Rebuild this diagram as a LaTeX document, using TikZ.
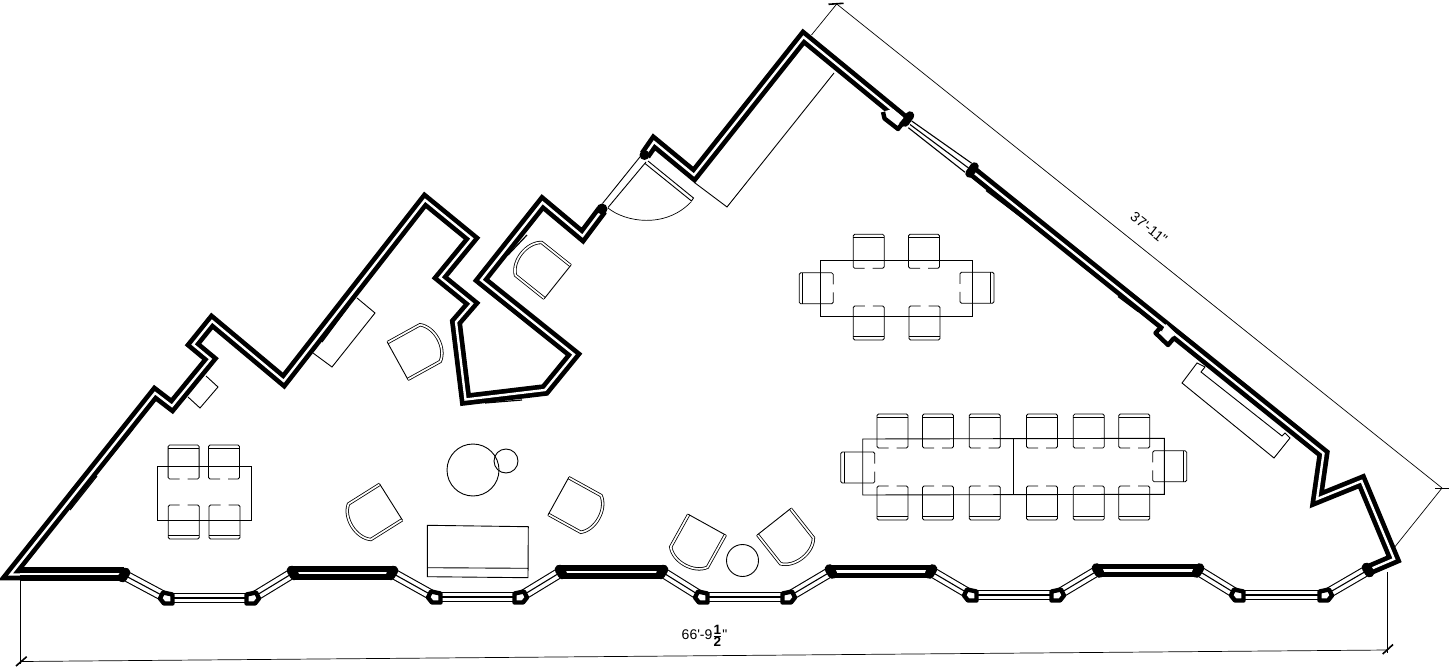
\documentclass[tikz,border=0pt]{standalone}
\usepackage{fontspec}
\newfontfamily\lab{Liberation Sans}
\tikzset{
  wall/.style={draw=black,line width=4.7pt,double=white,double distance=2.4pt,miter limit=20,line join=miter},
  wallb/.style={draw=black,line width=5.6pt,double=white,double distance=2.4pt},
  thin line/.style={draw=black,line width=.9pt},
  dim line/.style={draw=black,line width=.7pt},
  tick mark/.style={draw=black,line width=1.6pt},
  extra edge/.style={draw=black,line width=1.2pt},
  pier/.style={draw=black,line width=9.5pt,line cap=round},
  jambbox/.style={draw=black,fill=white,line width=4.4pt,line join=round},
  armline/.style={draw=black,line width=.8pt,double=white,double distance=1.7pt},
  seatline/.style={draw=black,line width=.8pt,rounded corners=1.5pt},
  winline/.style={draw=black,line width=1.1pt,double=white,double distance=8.5pt},
}
\newcommand{\seatc}[3]{\begin{scope}[shift={(#1,#2)},rotate=#3]
  \draw[seatline] (-4,17)--(-15.5,17)--(-15.5,-17)--(15.5,-17)--(15.5,17)--(4,17);
  \draw[thin line,line width=.8pt] (-15.5,-13.5)--(15.5,-13.5);
\end{scope}}
\newcommand{\armchair}[3]{\begin{scope}[shift={(#1,#2)},rotate=#3]
  \draw[armline] (-21,0)--(-21,37) .. controls (-12,49) and (12,49) .. (21,37)--(21,0);
  \draw[thin line] (-21.5,0)--(21.5,0);
\end{scope}}
\newcommand{\win}[2]{\draw[winline] (#1)--(#2); \draw[draw=black,line width=1.1pt] (#1)--(#2);}
\newcommand{\boxL}[2]{\filldraw[jambbox] (#1-4,#2-5.5)--(#1+5.5,#2-3.5)--(#1+5.5,#2+5.5)--(#1-3,#2+5.5)--(#1-7,#2+.5)--cycle;}
\newcommand{\boxR}[2]{\filldraw[jambbox] (#1+4,#2-5.5)--(#1-5.5,#2-3.5)--(#1-5.5,#2+5.5)--(#1+3,#2+5.5)--(#1+7,#2+.5)--cycle;}
\newcommand{\pierA}[1]{\draw[pier] ([shift={(1.6,-2.6)}]#1)--([shift={(-1.6,2.6)}]#1);}
\newcommand{\pierB}[1]{\draw[pier] ([shift={(-1.6,-2.6)}]#1)--([shift={(1.6,2.6)}]#1);}
\begin{document}
\begin{tikzpicture}[x=1pt,y=-1pt]
\useasboundingbox (0,0) rectangle (1450,668);
\fill[white] (0,0) rectangle (1450,668);
% ---- named points along the bay-window facade
\coordinate (p1) at (124,575);
\coordinate (b1) at (167,598);
\coordinate (b2) at (252,598);
\coordinate (p2) at (293,573);
\coordinate (p3) at (392,573);
\coordinate (b3) at (435,597);
\coordinate (b4) at (520,597);
\coordinate (p4) at (561,572);
\coordinate (p5) at (662,572);
\coordinate (b5) at (702,597);
\coordinate (b6) at (788,597);
\coordinate (p6) at (831,571.5);
\coordinate (p7) at (931,571.5);
\coordinate (b7) at (971,595);
\coordinate (b8) at (1057,595);
\coordinate (p8) at (1098,570.5);
\coordinate (p9) at (1198,570.5);
\coordinate (b9) at (1238,595);
\coordinate (b10) at (1325,595);
\coordinate (p10) at (1368,570);
% ---- windows
\win{p1}{b1}\win{b1}{b2}\win{b2}{p2}
\win{p3}{b3}\win{b3}{b4}\win{b4}{p4}
\win{p5}{b5}\win{b5}{b6}\win{b6}{p6}
\win{p7}{b7}\win{b7}{b8}\win{b8}{p8}
\win{p9}{b9}\win{b9}{b10}\win{b10}{p10}
\draw[thin line,line width=1.1pt] (911.7,121)--(971.7,163.3);
\draw[thin line,line width=1.1pt] (910,124.5)--(968.5,168);
\draw[thin line,line width=1.1pt] (908.3,127.7)--(965,172.3);
% ---- door opening frame
\draw[thin line] (602.5,203.5)--(641.5,155);
\draw[thin line] (608,207.5)--(646,162);
% ---- walls
\draw[wall] (124,574)--(10.5,574.5)--(155,393)--(172,406)--(210.5,359)--(193,344.5)--(212,321)--(283.7,381)--(425,200)--(472,238.5)--(440,277.5)--(472,303.5)--(456,322)--(465.5,399.5)--(545,390)--(574,354.5)--(481,280)--(542.5,202.5)--(582.5,236)--(602,210);
\draw[wallb] (20,574)--(124,574);
\draw[wall] (645,155)--(654,142)--(694,175)--(803.5,37)--(907,122);
\draw[wall] (972,171)--(1323.5,453.5)--(1317,499)--(1361.5,481)--(1394,559)--(1366,571);
\draw[wallb] (p2)--(p3);
\draw[wallb] (p4)--(p5);
\draw[wallb] (p6)--(p7);
\draw[wallb] (p8)--(p9);
% ---- piers and jambs
\foreach \q in {p1,p3,p5,p7,p9}{\pierA{\q}}
\foreach \q in {p2,p4,p6,p8,p10}{\pierB{\q}}
\fill[black] (602,209) circle[radius=5.5pt];
\fill[black] (644.5,155) circle[radius=5pt];
\draw[pier,line width=8.5pt] (910,115.5)--(905,122.5);
\draw[pier,line width=8.5pt] (974.5,166.5)--(969.5,173.5);
\boxL{167}{598}\boxR{252}{598}
\boxL{435}{597}\boxR{520}{597}
\boxL{702}{597}\boxR{788}{597}
\boxL{971}{595}\boxR{1057}{595}
\boxL{1238}{595}\boxR{1325}{595}
% ---- wall notches
\fill[white] (885,111)--(887,116.5)--(897.5,125)--(903.5,118)--(893,109)--cycle;
\draw[jambbox,fill=none] (883,112)--(884.5,118.5)--(898,129)--(906,119);
\fill[white] (1162,331)--(1168,341)--(1176,334)--(1166,324)--cycle;
\draw[jambbox,fill=none] (1162,326)--(1155.5,333)--(1168,345)--(1174,338);
% ---- thickened spots on the inner wall faces
\draw[extra edge] (70,510)--(97,476);
\draw[extra edge] (104,464)--(133,429);
\draw[extra edge] (322,342)--(348,307);
\draw[extra edge] (986,190.5)--(1023,218.5);
\draw[extra edge] (508,255)--(527,235);
\draw[extra edge] (485,403)--(522,400);
\draw[extra edge] (1118,296.5)--(1138,311.5);
% ---- door
\draw[thin line] (648,161)--(693.5,198)--(691.5,201)--(645,163.5);
\draw[dim line] (608,208) .. controls (625,222) and (665,229) .. (691,202);
% ---- wall cabinets and fixtures
\draw[thin line] (206,376)--(218,387)--(200,408)--(188,397);
\draw[thin line] (357,298)--(375,313)--(332,367)--(313,353);
\draw[thin line] (695,183)--(727,207)--(834,73);
\draw[thin line] (1197,363)--(1182,383)--(1274,458)--(1290,438)--(1285,433)--(1282,436)--(1201,372)--(1205,367)--cycle;
% ---- armchairs
\armchair{557.5}{282}{-128.6}
\armchair{397.7}{361}{118.9}
\armchair{391}{502}{-57.8}
\armchair{558.5}{496}{61.1}
\armchair{707}{524.7}{-29}
\armchair{774}{521.7}{38.3}
% ---- round tables
\draw[thin line] (473,470) circle[radius=26pt];
\draw[thin line] (506,461) circle[radius=12pt];
\draw[thin line] (742.5,560.5) circle[radius=16pt];
% ---- low table
\draw[thin line] (427.3,525.3)--(528.3,526.7)--(528,577.7)--(427.3,576.7)--cycle;
\draw[thin line] (427.3,567.7)--(528,568.3);
% ---- small table
\draw[thin line] (157.3,466.7) rectangle (251.7,520.3);
\seatc{183.6}{462}{0}\seatc{224}{462}{0}
\seatc{183.7}{522}{180}\seatc{224.5}{522}{180}
% ---- upper table
\draw[thin line] (820.7,260) rectangle (972.3,316.7);
\seatc{868.7}{251.3}{0}\seatc{924}{251.3}{0}
\seatc{868.8}{323}{180}\seatc{924.5}{323}{180}
\seatc{816.2}{288.3}{90}\seatc{977}{287.8}{-90}
% ---- long table
\draw[thin line] (862.7,439)--(1164.3,438.3)--(1164.3,494.3)--(862.7,495)--cycle;
\draw[thin line] (1013.3,439)--(1013.3,495);
\foreach \x in {892.5,938,984.7,1042,1088.8,1134.2}{\seatc{\x}{431}{0}\seatc{\x}{503}{180}}
\seatc{857.8}{467.5}{90}\seatc{1169.7}{466.3}{-90}
% ---- dimensions
\coordinate (d1) at (20.7,661.5);
\coordinate (d2) at (1387.7,650);
\coordinate (d3) at (836.7,4);
\coordinate (d4) at (1442,488);
\draw[dim line] (d1)--(d2);
\draw[dim line] (20.7,581)--(20.7,664);
\draw[dim line] (1387.7,572)--(1387.7,653);
\draw[tick mark] (16,666)--(26.7,656.7);
\draw[tick mark] (1382.7,654)--(1393,644.5);
\draw[dim line] (d3)--(d4);
\draw[dim line] (d3)--(811.5,35);
\draw[dim line] (d4)--(1395,546.7);
\draw[tick mark] (828.5,4.3)--(843.5,3.3);
\draw[tick mark] (1435,488.3)--(1449,488.3);
\node[font=\lab\fontsize{14}{15}\selectfont,inner sep=0pt,rotate=-38.5] (lab37) at (1149,228) {37'-11"};
\node[font=\lab\fontsize{14}{15}\selectfont,inner sep=0pt] (lab66) at (704.5,635.5) {66'-9$\frac{\hbox{\lab\bfseries\fontsize{13.5}{14}\selectfont 1}}{\hbox{\lab\bfseries\fontsize{13.5}{14}\selectfont 2}}$"};
\end{tikzpicture}
\end{document}
